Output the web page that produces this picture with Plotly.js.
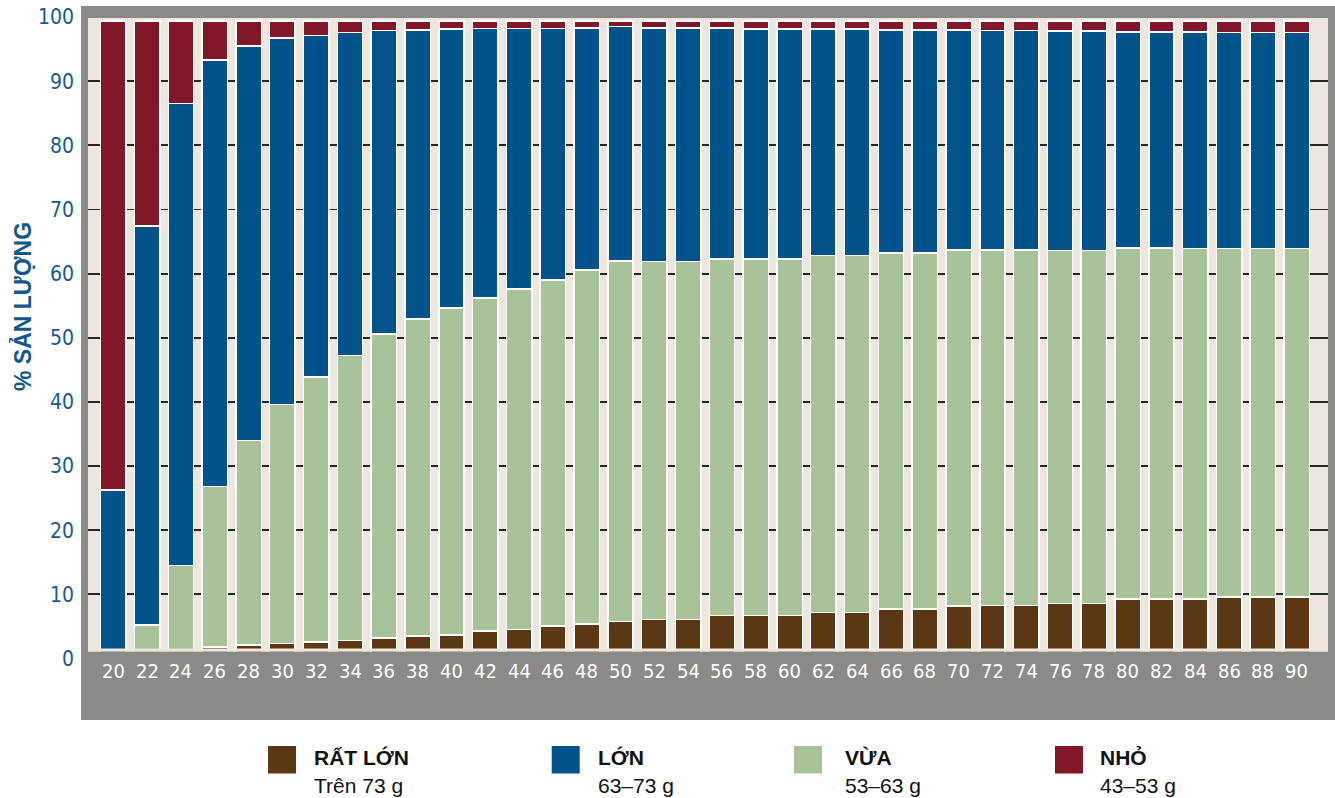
<!DOCTYPE html>
<html><head><meta charset="utf-8">
<script src="https://cdn.plot.ly/plotly-3.0.1.min.js"></script>
<style>html,body{margin:0;padding:0;background:#fff;} #chart{width:1335px;height:798px;}</style>
</head><body><div id="chart"></div>
<script>
// ---- data ----
const categories = [20,22,24,26,28,30,32,34,36,38,40,42,44,46,48,50,52,54,56,58,60,62,64,66,68,70,72,74,76,78,80,82,84,86,88,90];
const ratLon = [0,0,0,1.8,2.1,2.3,2.6,2.8,3.2,3.5,3.7,4.3,4.5,5.1,5.4,5.8,6.1,6.1,6.7,6.7,6.7,7.2,7.2,7.7,7.7,8.2,8.3,8.3,8.6,8.6,9.3,9.3,9.3,9.6,9.6,9.6];
const vua = [0,5.2,14.5,25.0,31.9,37.3,41.3,44.4,47.4,49.4,50.9,51.9,53.1,53.9,55.2,56.2,55.8,55.8,55.6,55.6,55.6,55.6,55.6,55.5,55.5,55.5,55.4,55.4,55.0,55.0,54.7,54.7,54.6,54.3,54.3,54.3];
const lon = [26.3,62.2,72.0,66.5,61.5,57.1,53.2,50.4,47.3,45.1,43.5,42.0,40.6,39.2,37.7,36.5,36.4,36.4,36.0,35.8,35.8,35.3,35.3,34.8,34.8,34.3,34.2,34.2,34.2,34.2,33.7,33.7,33.8,33.7,33.7,33.7];
const nho = [73.1,32.0,12.9,6.1,3.9,2.7,2.3,1.8,1.5,1.4,1.3,1.2,1.2,1.2,1.1,0.9,1.1,1.1,1.1,1.3,1.3,1.3,1.3,1.4,1.4,1.4,1.45,1.45,1.6,1.6,1.7,1.7,1.7,1.8,1.8,1.8];
const yTicks = [0,10,20,30,40,50,60,70,80,90,100];
const seriesNames = ['RẤT LỚN','LỚN','VỪA','NHỎ'];
const seriesSubs = ['Trên 73 g','63–73 g','53–63 g','43–53 g'];
const yTitle = '% SẢN LƯỢNG';

// ---- style ----
const C = {brown:'#5c3713', blue:'#02538a', green:'#a8c399', red:'#801829', beige:'#ede7df', gray:'#8a8a88', tick:'#165b93'};
const W=1335, H=798, L=88, R=7, T=17, B=78;
const PW=W-L-R, PH=H-T-B;
const px = v => (v-L)/PW;
const py = v => (H-B-v)/PH;
const narrow = "'Liberation Sans Narrow','DejaVu Sans Condensed',Roboto,sans-serif";
const sans = "'Liberation Sans',Arial,sans-serif";

function bar(vals, name, color){
  return {type:'bar', x:categories, y:vals, name:name,
    marker:{color:color, line:{color:'#ffffff', width:1.5}}, hoverinfo:'x+y+name'};
}
const traces = [
  bar(ratLon, seriesNames[0], C.brown),
  bar(vua, seriesNames[2], C.green),
  bar(lon, seriesNames[1], C.blue),
  bar(nho, seriesNames[3], C.red)
];

const shapes = [
  {type:'rect', xref:'paper', yref:'paper', x0:px(81), x1:0, y0:0, y1:py(6), fillcolor:C.gray, line:{width:0}, layer:'above'},
  {type:'rect', xref:'paper', yref:'paper', x0:1, x1:px(1335), y0:0, y1:py(6), fillcolor:C.gray, line:{width:0}, layer:'above'},
  {type:'rect', xref:'paper', yref:'paper', x0:px(81), x1:px(1335), y0:py(18), y1:py(6), fillcolor:C.gray, line:{width:0}, layer:'above'},
  {type:'rect', xref:'paper', yref:'paper', x0:0, x1:1, y0:py(651.8), y1:py(648.6), fillcolor:C.beige, line:{width:0}, layer:'above'},
  {type:'rect', xref:'paper', yref:'paper', x0:px(81), x1:px(1335), y0:0, y1:py(651.8), fillcolor:C.gray, line:{width:0}, layer:'above'}
];
const sqX = [268, 551.7, 794, 1055];
const txtX = [314, 598, 845, 1100];
const sqColors = [C.brown, C.blue, C.green, C.red];
const legendOrder = [0,1,2,3];
legendOrder.forEach((k,i)=>{
  shapes.push({type:'rect', xref:'paper', yref:'paper', x0:px(sqX[i]), x1:px(sqX[i]+28), y0:py(773.5), y1:py(746), fillcolor:sqColors[i], line:{width:0}});
});

const annotations = [];
categories.forEach(c=>{
  annotations.push({x:c, xref:'x', yref:'paper', y:py(670.8), text:String(c), showarrow:false,
    xanchor:'center', yanchor:'middle', font:{family:narrow, size:20, color:'#ffffff'}});
});
annotations.push({xref:'paper', yref:'paper', x:px(22), y:py(307), text:'<b>'+yTitle+'</b>', textangle:-90,
  showarrow:false, xanchor:'center', yanchor:'middle', font:{family:sans, size:23, color:'#0e588d'}});
legendOrder.forEach((k,i)=>{
  annotations.push({xref:'paper', yref:'paper', x:px(txtX[i]-2), y:py(757), text:'<b>'+seriesNames[k]+'</b>', showarrow:false,
    xanchor:'left', yanchor:'middle', font:{family:sans, size:21, color:'#111111'}});
  annotations.push({xref:'paper', yref:'paper', x:px(txtX[i]-2), y:py(785), text:seriesSubs[k], showarrow:false,
    xanchor:'left', yanchor:'middle', font:{family:sans, size:21, color:'#111111'}});
});

const layout = {
  width:W, height:H,
  margin:{l:L, r:R, t:T, b:B, pad:0},
  paper_bgcolor:'#ffffff', plot_bgcolor:C.beige,
  barmode:'stack', bargap:0.25,
  showlegend:false,
  xaxis:{range:[18.5, 91.85], showticklabels:false, ticks:'', showgrid:false, zeroline:false, showline:false, fixedrange:true, automargin:false},
  yaxis:{range:[-9.587, 100], tickvals:yTicks, ticktext:yTicks.map(String), showgrid:true, gridcolor:'#262626', gridwidth:1.8,
    zeroline:false, showline:false, ticks:'', ticklabelstandoff:13, automargin:false, fixedrange:true,
    tickfont:{family:narrow, size:21, color:C.tick}},
  shapes:shapes, annotations:annotations
};
Plotly.newPlot('chart', traces, layout, {displayModeBar:false, staticPlot:true});
</script></body></html>
